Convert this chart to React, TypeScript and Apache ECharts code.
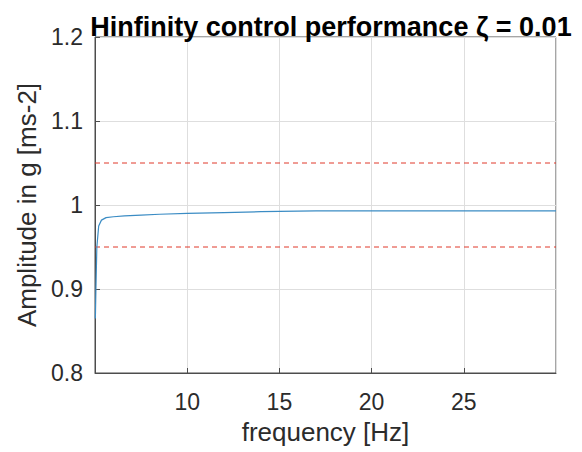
import React, { useEffect, useRef } from "react";
import * as echarts from "echarts";

const freq = [5.02, 5.05, 5.1, 5.2, 5.35, 5.6, 6, 6.6, 7.5, 8.5, 10, 12, 14, 17, 20, 25, 30];
const amplitude = [0.865, 0.9, 0.95, 0.975, 0.982, 0.985, 0.986, 0.987, 0.988, 0.989, 0.990, 0.991, 0.992, 0.993, 0.993, 0.993, 0.993];
const upperLimit = 1.05;
const lowerLimit = 0.95;
const xRange = [5, 30];
const yRange = [0.8, 1.2];

export default function App() {
  const ref = useRef<HTMLDivElement>(null);
  useEffect(() => {
    if (!ref.current) return;
    const chart = echarts.init(ref.current, null, { renderer: "svg" });
    const font = "'Liberation Sans', Arial, Helvetica, sans-serif";
    const axisColor = "#4d4d4d";
    const textColor = "#2b2b2b";
    chart.setOption({
      animation: false,
      backgroundColor: "#ffffff",
      title: {
        text: "Hinfinity control performance ζ = 0.01",
        left: 326,
        textAlign: "center",
        top: 8,
        textStyle: { fontFamily: font, fontSize: 27, fontWeight: "bold", color: "#000" },
      },
      grid: {
        left: 95,
        right: 26,
        top: 37,
        bottom: 79,
        show: true,
        borderColor: axisColor,
        borderWidth: 1,
        backgroundColor: "#fff",
      },
      xAxis: {
        type: "value",
        min: xRange[0],
        max: xRange[1],
        interval: 5,
        name: "frequency [Hz]",
        nameLocation: "middle",
        nameGap: 46,
        nameTextStyle: { fontFamily: font, fontSize: 26, color: textColor },
        axisLine: { show: true, lineStyle: { color: axisColor } },
        axisTick: { show: true, inside: true, length: 5, lineStyle: { color: axisColor } },
        axisLabel: {
          showMinLabel: false,
          showMaxLabel: false,
          margin: 17,
          fontFamily: font,
          fontSize: 23,
          color: textColor,
        },
        splitLine: { show: true, lineStyle: { color: "#dedede", width: 1 } },
      },
      yAxis: {
        type: "value",
        min: yRange[0],
        max: yRange[1],
        interval: 0.1,
        name: "Amplitude in g [ms-2]",
        nameLocation: "middle",
        nameGap: 52,
        nameTextStyle: { fontFamily: font, fontSize: 26, color: textColor },
        axisLine: { show: true, lineStyle: { color: axisColor } },
        axisTick: { show: true, inside: true, length: 5, lineStyle: { color: axisColor } },
        axisLabel: {
          margin: 12,
          fontFamily: font,
          fontSize: 23,
          color: textColor,
          formatter: (v: number) => String(Math.round(v * 10) / 10),
        },
        splitLine: { show: true, lineStyle: { color: "#dedede", width: 1 } },
      },
      series: [
        {
          type: "line",
          data: [[xRange[0], upperLimit], [xRange[1], upperLimit]],
          symbol: "none",
          lineStyle: { color: "#e0392b", width: 1, type: [5, 4] },
        },
        {
          type: "line",
          data: [[xRange[0], lowerLimit], [xRange[1], lowerLimit]],
          symbol: "none",
          lineStyle: { color: "#e0392b", width: 1, type: [5, 4] },
        },
        {
          type: "line",
          data: freq.map((f, i) => [f, amplitude[i]]),
          symbol: "none",
          lineStyle: { color: "#3b8cc4", width: 1.2 },
        },
      ],
    });
    return () => chart.dispose();
  }, []);
  return (
    <div
      ref={ref}
      style={{ position: "fixed", left: 0, top: 0, width: 582, height: 452 }}
    />
  );
}
